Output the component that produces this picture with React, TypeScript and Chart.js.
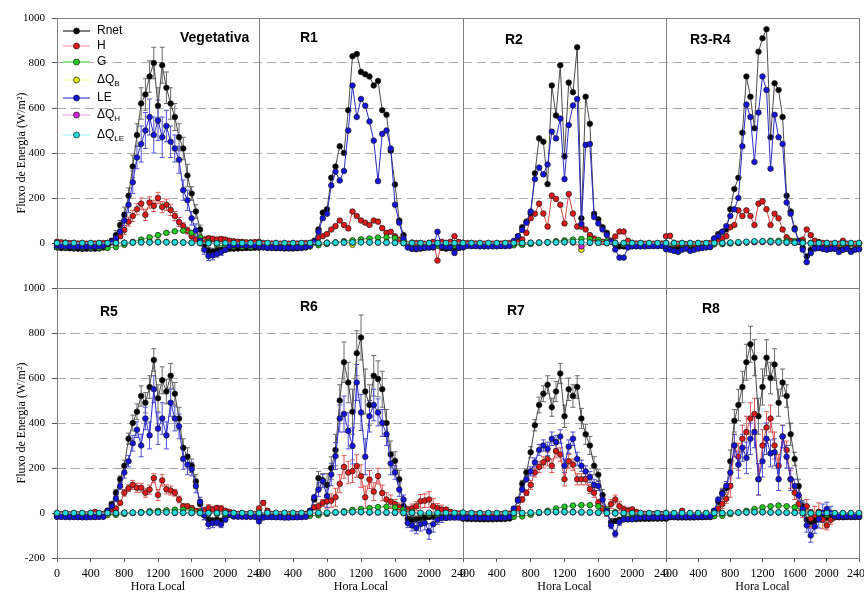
import React, { useEffect, useRef } from 'react';
import { Chart, registerables } from 'chart.js';
Chart.register(...registerables);

// ---------- categories ----------
const hours30 = [0,50,100,150,200,250,300,350,400,450,500,550,600,650,700,750,800,850,900,950,1000,1050,1100,1150,1200,1250,1300,1350,1400,1450,1500,1550,1600,1650,1700,1750,1800,1850,1900,1950,2000,2050,2100,2150,2200,2250,2300,2350,2400];
const hours60 = [0,100,200,300,400,500,600,700,800,900,1000,1100,1200,1300,1400,1500,1600,1700,1800,1900,2000,2100,2200,2300,2400];
const panelTitles = ['Vegetativa','R1','R2','R3-R4','R5','R6','R7','R8'];
const seriesBase = ['Rnet','H','G','\u0394Q','LE','\u0394Q','\u0394Q'];
const seriesSub = ['','','','B','','H','LE'];
const xTickStep = 400;
const yTickStep = 200;

// ---------- Vegetativa ----------
const vegRnet = [-20,-22,-22,-23,-24,-25,-26,-25,-25,-25,-24,-20,-10,10,35,80,125,210,340,480,620,660,740,800,610,790,690,620,560,470,420,300,220,140,60,-10,-35,-38,-33,-30,-28,-25,-25,-24,-23,-22,-22,-21,-20];
const vegH = [5,3,2,0,0,-2,-3,-3,-3,-2,-2,0,0,3,10,30,58,95,120,150,175,125,180,165,200,160,170,147,120,93,75,55,30,15,8,15,20,18,15,18,15,10,8,5,5,3,3,4,5];
const vegLE = [-12,-14,-15,-15,-16,-16,-17,-16,-16,-15,-15,-12,-5,5,22,50,100,170,270,380,440,500,560,480,545,470,520,450,420,370,235,190,110,55,10,-30,-58,-55,-48,-40,-30,-15,-10,-10,-10,-11,-11,-12,-12];
const vegG = [-18,-19,-20,-21,-22,-22,-22,-18,-8,5,15,25,35,45,52,55,45,25,5,-8,-14,-16,-17,-18,-18];
const vegQB = [-2,-2,-2,-2,-3,-3,-3,-2,0,2,4,5,6,5,4,3,1,-1,-2,-2,-2,-2,-2,-2,-2];
const vegQH = [0,0,0,0,0,0,0,0,1,2,2,3,3,3,2,2,1,0,-1,-1,0,0,0,0,0];
const vegQLE = [0,0,0,0,0,0,0,0,1,2,3,3,4,3,3,2,1,0,-1,-1,0,0,0,0,0];
const vegErrRnet = [8,8,8,8,8,8,10,20,35,50,70,70,80,70,60,50,30,20,15,12,10,8,8,8,8];
const vegErrLE = [8,8,8,8,8,8,10,20,35,50,80,80,90,70,60,45,30,20,20,15,10,8,8,8,8];
const vegErrH = [8,8,8,8,8,8,8,10,20,25,25,25,25,25,20,15,10,12,12,10,8,8,8,8,8];

// ---------- R1 ----------
const r1Rnet = [-20,-20,-22,-22,-23,-23,-24,-24,-24,-23,-22,-20,-15,10,60,135,150,290,340,430,400,590,830,840,760,750,740,700,720,590,570,410,260,100,35,-10,-25,-28,-25,-22,-20,-20,-10,-22,-25,-22,-30,-22,-20];
const r1H = [0,0,-2,-2,-3,-3,-3,-3,-3,-2,-2,0,0,5,25,30,40,60,75,100,80,65,140,120,100,90,80,100,95,66,45,50,30,15,5,-5,0,0,0,-3,0,5,-78,5,0,5,30,5,0];
const r1LE = [-18,-18,-20,-20,-20,-21,-21,-21,-20,-20,-20,-18,-12,5,50,110,130,256,317,278,320,500,700,560,640,610,540,455,275,485,500,420,170,90,20,-20,-25,-25,-22,-20,-20,-18,50,-15,-18,-20,-44,-20,-18];
const r1G = [-12,-12,-13,-13,-14,-14,-14,-10,-4,2,8,12,16,20,24,25,22,12,2,-6,-10,-11,-12,-12,-12];
const r1QB = [-2,-2,-2,-2,-2,-2,-2,-1,0,2,3,-8,5,4,3,2,1,-1,-2,-2,-2,-2,-2,-2,-2];
const r1QH = [0,0,0,0,0,0,0,0,1,1,2,2,3,2,2,1,1,0,0,0,0,0,0,0,0];
const r1QLE = [0,0,0,0,0,0,0,0,1,2,2,3,3,3,2,2,1,0,0,0,0,0,0,0,0];

// ---------- R2 ----------
const r2Rnet = [-8,-8,-10,-10,-10,-10,-10,-10,-10,-10,-10,-8,0,30,70,95,130,310,465,450,262,700,567,790,385,713,670,870,110,650,530,130,105,70,45,10,-8,-15,-15,-12,-12,-12,-12,-12,-10,-10,-10,-10,-8];
const r2H = [0,0,-2,-2,-3,-3,-3,-3,-3,-2,-2,0,0,5,15,45,110,130,175,131,73,211,196,170,87,218,131,73,73,60,35,20,10,5,5,10,29,51,51,10,0,-2,-2,-3,-3,-3,-2,-2,0];
const r2LE = [-13,-13,-14,-14,-15,-15,-15,-15,-15,-14,-14,-13,10,30,58,90,140,284,335,305,349,495,465,553,284,524,611,640,85,436,440,116,87,60,36,5,-29,-65,-65,-20,-15,-15,-15,-15,-14,-14,-14,-13,-12];
const r2G = [-8,-8,-9,-9,-10,-10,-10,-8,-4,0,4,8,12,15,18,18,14,8,0,-5,-7,-8,-8,-8,-8];
const r2QB = [-2,-2,-2,-2,-2,-2,-2,-1,0,2,3,4,5,4,-30,2,1,-1,-2,-2,-2,-2,-2,-2,-2];
const r2QH = [0,0,0,0,0,0,0,0,1,1,2,2,3,2,-15,1,1,0,0,0,0,0,0,0,0];
const r2QLE = [0,0,0,0,0,0,0,0,1,2,3,3,4,5,3,2,1,0,0,0,0,0,0,0,0];

// ---------- R3-R4 ----------
const r3Rnet = [-22,-25,-30,-25,-22,-20,-28,-25,-22,-20,-18,-15,20,40,50,60,150,240,290,490,740,650,510,850,910,950,470,710,680,560,210,140,65,10,-20,-60,-30,-20,-22,-25,-28,-25,-25,-30,-28,-25,-35,-28,-25];
const r3H = [30,32,0,-3,-5,-5,-5,-5,-3,-3,-2,0,0,10,20,30,70,80,145,120,145,120,80,175,185,150,80,130,110,60,25,10,3,5,15,60,35,10,5,0,0,-3,-3,-3,10,-3,-3,-3,-3];
const r3LE = [-28,-30,-35,-40,-30,-25,-35,-30,-25,-22,-20,-18,20,30,50,75,120,150,200,430,615,560,360,580,740,680,330,570,470,440,180,130,60,5,-30,-85,-45,-25,-22,-25,-30,-25,-25,-40,-30,-25,-40,-30,-28];
const r3G = [-5,-5,-6,-6,-6,-6,-6,-5,-2,0,3,5,8,10,10,10,8,4,0,-3,-4,-5,-5,-5,-5];
const r3QB = [-2,-2,-2,-2,-2,-2,-2,-1,0,2,3,4,5,4,3,2,1,-1,-2,-2,-2,-2,-2,-2,-2];
const r3QH = [0,0,0,0,0,0,0,0,1,2,3,4,4,3,2,1,1,0,0,0,0,0,0,0,0];
const r3QLE = [0,0,0,0,0,0,0,0,2,4,6,8,8,7,5,3,1,0,-1,0,0,0,0,0,0];

// ---------- R5 ----------
const r5Rnet = [-15,-16,-16,-17,-17,-18,-18,-18,-17,-17,-16,-15,10,40,90,150,210,330,400,450,520,490,560,680,510,590,540,610,530,420,290,250,210,140,40,-10,-30,-35,-30,-35,-20,-8,-15,-15,-15,-15,-15,-15,-15];
const r5H = [-5,-5,-5,-6,-6,-6,-6,-6,-5,5,-5,-5,0,5,20,45,90,110,125,112,112,90,104,155,80,145,105,100,90,60,30,30,22,10,5,10,22,15,22,20,10,5,-3,-4,-4,-5,-5,-5,-5];
const r5LE = [-17,-17,-18,-18,-18,-18,-19,-19,-18,-18,-17,-17,10,30,65,120,180,230,310,370,300,420,345,550,375,420,345,490,420,385,240,215,195,120,50,-10,-50,-45,-42,-50,-30,-5,-15,-16,-16,-17,-17,-17,-17];
const r5G = [-8,-8,-9,-9,-9,-9,-9,-8,-4,0,4,8,10,12,15,15,12,6,0,-4,-6,-7,-8,-8,-8];
const r5QB = [-2,-2,-2,-2,-2,-2,-2,-1,0,1,2,3,4,3,2,1,0,-1,-2,-2,-2,-2,-2,-2,-2];
const r5QH = [0,0,0,0,0,0,0,0,1,1,2,2,2,2,1,1,0,0,0,0,0,0,0,0,0];
const r5QLE = [0,0,0,0,0,0,0,0,1,2,2,3,3,3,2,1,1,0,0,0,0,0,0,0,0];
const r5ErrRnet = [5,5,5,5,5,5,8,15,25,35,45,50,60,55,50,40,30,20,15,12,8,5,5,5,5];
const r5ErrLE = [5,5,5,5,5,5,8,15,25,35,50,60,70,60,55,45,30,20,20,15,8,5,5,5,5];
const r5ErrH = [5,5,5,5,5,5,5,8,15,20,20,20,25,20,15,10,10,15,15,12,8,5,5,5,5];

// ---------- R6 ----------
const r6Rnet = [-20,-15,-15,-16,-16,-17,-17,-17,-16,-16,-15,-15,0,60,155,145,125,200,280,500,670,580,450,710,780,540,480,610,596,550,400,260,232,150,30,-25,-30,-28,-22,-20,-18,-16,-15,-15,-15,-15,-15,-16,-18];
const r6H = [20,45,10,-5,-6,-6,-6,-6,-5,-5,-5,-4,5,25,30,45,52,55,70,130,205,180,186,209,164,70,149,95,164,89,60,50,40,25,15,15,20,30,52,55,60,30,22,15,15,5,0,-2,-3];
const r6LE = [-37,-20,-18,-18,-19,-19,-20,-20,-19,-19,-18,-16,10,70,104,142,75,171,253,420,440,365,298,580,447,250,430,480,447,400,350,220,180,104,60,-45,-55,-67,-50,-45,-82,-50,-30,-22,-22,-20,-20,-20,-22];
const r6G = [-10,-10,-11,-11,-11,-12,-12,-10,-4,2,8,14,18,22,26,28,25,15,5,-3,-7,-8,-9,-10,-10];
const r6QB = [-3,-3,-3,-3,-3,-3,-3,-2,0,2,3,4,5,4,3,2,1,-1,-2,-3,-3,-3,-3,-3,-3];
const r6QH = [0,0,0,0,0,0,0,0,1,2,2,3,3,2,2,1,1,0,0,0,0,0,0,0,0];
const r6QLE = [2,1,1,1,1,1,1,1,2,3,4,5,5,4,3,3,2,1,1,1,1,1,1,1,2];
const r6ErrRnet = [10,10,10,10,10,10,10,30,50,70,90,100,100,90,80,60,40,20,15,12,10,10,10,10,10];
const r6ErrLE = [10,10,10,10,10,10,10,30,50,60,80,80,80,70,60,50,30,20,25,30,35,20,10,10,10];
const r6ErrH = [10,10,10,10,10,10,10,15,30,40,50,50,50,40,35,30,20,15,20,30,35,20,10,10,10];

// ---------- R7 ----------
const r7Rnet = [-25,-26,-27,-27,-28,-28,-28,-28,-27,-27,-26,-24,10,60,130,180,270,390,480,530,570,470,540,620,430,550,520,560,420,350,300,210,170,80,10,-40,-35,-30,-28,-28,-27,-27,-26,-26,-26,-25,-25,-25,-25];
const r7H = [-5,-5,-5,-5,-6,-6,-6,-6,-5,-5,-5,-3,5,20,60,90,125,180,205,225,240,210,275,260,150,230,215,150,150,150,106,90,46,20,5,40,60,30,16,10,16,5,-3,-4,-4,-5,-5,-5,-5];
const r7LE = [-20,-20,-21,-21,-22,-22,-22,-22,-21,-21,-20,-18,20,55,105,150,185,225,280,300,285,330,315,340,210,295,330,240,210,185,160,125,120,60,10,-55,-92,-40,-28,-28,-28,-22,-20,-20,-20,-20,-20,-20,-20];
const r7G = [-15,-15,-16,-16,-17,-17,-17,-15,-8,0,10,20,28,33,35,35,30,18,4,-6,-11,-13,-14,-15,-15];
const r7QB = [-3,-3,-3,-3,-3,-3,-3,-2,0,2,4,5,6,5,4,3,1,-1,-2,-3,-3,-3,-3,-3,-3];
const r7QH = [0,0,0,0,0,0,0,0,1,2,3,3,3,3,2,2,1,0,-1,0,0,0,0,0,0];
const r7QLE = [0,0,0,0,0,0,0,0,2,3,4,5,5,4,4,3,2,0,-1,0,0,0,0,0,0];
const r7ErrRnet = [6,6,6,6,6,6,8,15,25,35,40,45,50,50,45,40,25,15,10,8,6,6,6,6,6];
const r7ErrLE = [6,6,6,6,6,6,8,12,20,25,30,30,30,30,25,25,20,15,15,10,6,6,6,6,6];
const r7ErrH = [6,6,6,6,6,6,8,12,20,25,30,30,30,25,25,20,15,20,20,15,6,6,6,6,6];

// ---------- R8 ----------
const r8Rnet = [-18,-19,-19,-20,-20,-20,-20,-20,-19,-19,-18,-18,10,50,90,110,230,410,480,560,670,750,690,430,560,690,600,660,490,580,520,350,240,120,30,-30,-40,-35,-25,-22,-20,-20,-19,-19,-19,-18,-18,-18,-18];
const r8H = [-8,-8,-9,-9,10,-9,-10,-10,-9,-9,-8,-8,5,20,40,63,120,300,250,330,360,420,440,150,300,380,420,300,210,340,280,150,90,40,10,30,-25,-10,5,-30,-55,-30,-19,-10,-10,-10,-10,-10,-10];
const r8LE = [-15,-15,-16,-16,-16,-17,-17,-17,-16,-16,-15,-15,10,60,85,120,180,300,215,290,245,330,360,150,230,330,265,270,150,340,250,150,120,78,18,-55,-100,-60,-27,0,18,0,-15,-15,-15,-15,-15,-15,-15];
const r8G = [-12,-12,-13,-13,-14,-14,-14,-12,-5,2,10,18,25,30,33,30,25,14,3,-5,-9,-11,-12,-12,-12];
const r8QB = [-2,-2,-2,-2,-2,-2,-2,-1,0,2,3,4,5,4,3,2,1,-1,-2,-2,-2,-2,-2,-2,-2];
const r8QH = [0,0,0,0,0,0,0,0,1,2,2,3,3,2,2,1,1,0,0,0,0,0,0,0,0];
const r8QLE = [0,0,0,0,0,0,0,0,1,2,3,4,4,3,3,2,1,0,-1,0,0,0,0,0,0];
const r8ErrRnet = [8,8,8,8,8,8,10,20,50,70,80,80,80,70,60,50,30,25,20,15,10,8,8,8,8];
const r8ErrLE = [8,8,8,8,8,8,10,20,50,60,70,70,70,60,50,50,30,30,30,40,30,10,8,8,8];
const r8ErrH = [8,8,8,8,8,8,10,20,50,60,70,70,70,60,50,40,30,30,40,40,20,10,8,8,8];

const panels: any[] = [
  { rnet: vegRnet, h: vegH, g: vegG, qb: vegQB, le: vegLE, qh: vegQH, qle: vegQLE, err: { rnet: vegErrRnet, h: vegErrH, le: vegErrLE } },
  { rnet: r1Rnet, h: r1H, g: r1G, qb: r1QB, le: r1LE, qh: r1QH, qle: r1QLE, err: null },
  { rnet: r2Rnet, h: r2H, g: r2G, qb: r2QB, le: r2LE, qh: r2QH, qle: r2QLE, err: null },
  { rnet: r3Rnet, h: r3H, g: r3G, qb: r3QB, le: r3LE, qh: r3QH, qle: r3QLE, err: null },
  { rnet: r5Rnet, h: r5H, g: r5G, qb: r5QB, le: r5LE, qh: r5QH, qle: r5QLE, err: { rnet: r5ErrRnet, h: r5ErrH, le: r5ErrLE } },
  { rnet: r6Rnet, h: r6H, g: r6G, qb: r6QB, le: r6LE, qh: r6QH, qle: r6QLE, err: { rnet: r6ErrRnet, h: r6ErrH, le: r6ErrLE } },
  { rnet: r7Rnet, h: r7H, g: r7G, qb: r7QB, le: r7LE, qh: r7QH, qle: r7QLE, err: { rnet: r7ErrRnet, h: r7ErrH, le: r7ErrLE } },
  { rnet: r8Rnet, h: r8H, g: r8G, qb: r8QB, le: r8LE, qh: r8QH, qle: r8QLE, err: { rnet: r8ErrRnet, h: r8ErrH, le: r8ErrLE } },
];

// ---------- styles ----------
const seriesStyle = [
  { key: 'rnet', fill: '#000000', line: '#4a4a4a', err: '#6a6a6a', hourly: false },
  { key: 'h', fill: '#e01818', line: '#d84848', err: '#e05858', hourly: false },
  { key: 'g', fill: '#22cc22', line: '#48b848', err: '', hourly: true },
  { key: 'qb', fill: '#f2f200', line: '#d0d050', err: '', hourly: true },
  { key: 'le', fill: '#1414e0', line: '#2a2ac8', err: '#5050d8', hourly: false },
  { key: 'qh', fill: '#dd22dd', line: '#c860c8', err: '', hourly: true },
  { key: 'qle', fill: '#22e0e0', line: '#50c0c0', err: '', hourly: true },
];
const legendLine = ['#000000', '#f09090', '#90e090', '#f0f090', '#2020c0', '#f090f0', '#90f0f0'];
const legendRowY = [13, 28, 44, 62, 80, 97, 117];
const titleOffsets = [[123, 20], [41, 20], [42, 22], [24, 22], [43, 24], [41, 19], [44, 23], [36, 21]];
const colWeights = [202, 204, 203, 193];
const serif = 'Liberation Serif';
const sans = 'Liberation Sans';

function buildDatasets() {
  const out: any[] = [];
  panels.forEach((p, pi) => {
    const row = pi < 4 ? 0 : 1;
    const col = pi % 4;
    seriesStyle.forEach((s, si) => {
      const xs = s.hourly ? hours60 : hours30;
      const vals: number[] = p[s.key];
      out.push({
        label: panelTitles[pi] + ' ' + seriesBase[si] + seriesSub[si],
        data: xs.map((x, i) => ({ x, y: vals[i] })),
        xAxisID: 'x' + col,
        yAxisID: 'y' + row,
        order: 6 - si,
        borderColor: s.line,
        borderWidth: 1,
        pointRadius: 2.8,
        pointBorderWidth: 0.7,
        pointBackgroundColor: s.fill,
        pointBorderColor: '#1a1a1a',
        tension: 0,
        clip: false,
        errors: p.err && p.err[s.key] ? p.err[s.key] : null,
        errorColor: s.err,
      });
    });
  });
  return out;
}

const framePlugin = {
  id: 'frames',
  beforeDatasetsDraw(chart: any) {
    const ctx = chart.ctx;
    ctx.save();
    ctx.strokeStyle = '#808080';
    ctx.lineWidth = 1;
    for (let r = 0; r < 2; r++) {
      for (let c = 0; c < 4; c++) {
        const xs = chart.scales['x' + c];
        const ys = chart.scales['y' + r];
        ctx.strokeRect(Math.round(xs.left) + 0.5, Math.round(ys.top) + 0.5, Math.round(xs.right - xs.left), Math.round(ys.bottom - ys.top));
      }
    }
    ctx.restore();
  },
};

const errorBarPlugin = {
  id: 'errorBars',
  beforeDatasetsDraw(chart: any) {
    const ctx = chart.ctx;
    chart.data.datasets.forEach((ds: any, i: number) => {
      if (!ds.errors) return;
      const meta = chart.getDatasetMeta(i);
      const yScale = chart.scales[ds.yAxisID];
      ctx.save();
      ctx.strokeStyle = ds.errorColor;
      ctx.lineWidth = 1;
      meta.data.forEach((el: any, j: number) => {
        const pt = ds.data[j];
        const e = ds.errors[Math.floor(pt.x / 100)];
        const yt = yScale.getPixelForValue(pt.y + e);
        const yb = yScale.getPixelForValue(pt.y - e);
        ctx.beginPath();
        ctx.moveTo(el.x, yt); ctx.lineTo(el.x, yb);
        ctx.moveTo(el.x - 2.5, yt); ctx.lineTo(el.x + 2.5, yt);
        ctx.moveTo(el.x - 2.5, yb); ctx.lineTo(el.x + 2.5, yb);
        ctx.stroke();
      });
      ctx.restore();
    });
  },
};

const annotatePlugin = {
  id: 'annotate',
  afterDraw(chart: any) {
    const ctx = chart.ctx;
    ctx.save();
    ctx.fillStyle = '#000';
    ctx.font = 'bold 14px "' + sans + '"';
    ctx.textBaseline = 'middle';
    ctx.textAlign = 'left';
    panelTitles.forEach((t, pi) => {
      const row = pi < 4 ? 0 : 1;
      const col = pi % 4;
      const xs = chart.scales['x' + col];
      const ys = chart.scales['y' + row];
      ctx.fillText(t, xs.left + titleOffsets[pi][0], ys.top + titleOffsets[pi][1]);
    });
    const x0 = chart.scales.x0.left;
    const y0 = chart.scales.y0.top;
    seriesStyle.forEach((s, si) => {
      const y = y0 + legendRowY[si];
      ctx.strokeStyle = legendLine[si];
      ctx.lineWidth = si === 2 ? 2 : 1;
      ctx.beginPath();
      ctx.moveTo(x0 + 6, y);
      ctx.lineTo(x0 + 33, y);
      ctx.stroke();
      ctx.beginPath();
      ctx.arc(x0 + 19.5, y, 3, 0, Math.PI * 2);
      ctx.fillStyle = s.fill;
      ctx.fill();
      ctx.lineWidth = 0.7;
      ctx.strokeStyle = '#1a1a1a';
      ctx.stroke();
      ctx.fillStyle = '#000';
      ctx.font = '12px "' + sans + '"';
      const base = seriesBase[si];
      ctx.fillText(base, x0 + 40, y);
      if (seriesSub[si]) {
        const w = ctx.measureText(base).width;
        ctx.font = '8px "' + sans + '"';
        ctx.fillText(seriesSub[si], x0 + 40 + w, y + 4);
      }
    });
    ctx.restore();
  },
};

function zeroPad(s: any) {
  s.paddingLeft = 0; s.paddingRight = 0; s.paddingTop = 0; s.paddingBottom = 0;
}

function yAxis(row: number) {
  return {
    type: 'linear',
    position: 'left',
    stack: 'rows',
    stackWeight: 1,
    weight: row === 0 ? 1 : 0,
    min: -200,
    max: 1000,
    afterFit: (s: any) => { s.width = 57; zeroPad(s); },
    ticks: {
      stepSize: yTickStep,
      font: { family: serif, size: 11 },
      color: '#000',
      padding: 7,
      callback: (v: any) => (row === 0 && v === -200 ? '' : String(v)),
    },
    grid: {
      color: (ctx: any) => {
        const v = ctx.tick ? ctx.tick.value : 0;
        return v > 0 && v < 1000 ? '#aaaaaa' : 'rgba(0,0,0,0)';
      },
      tickColor: '#555',
      tickLength: 5,
      lineWidth: 1,
    },
    border: { display: false, dash: [9, 5] },
    title: {
      display: true,
      text: 'Fluxo de Energia (W/m\u00b2)',
      font: { family: serif, size: 12 },
      color: '#000',
      padding: { top: 15, bottom: 0 },
    },
  };
}

function xAxis(col: number) {
  return {
    type: 'linear',
    position: 'bottom',
    stack: 'cols',
    stackWeight: colWeights[col],
    weight: col,
    min: 0,
    max: 2400,
    afterFit: (s: any) => { s.height = 36; zeroPad(s); },
    ticks: {
      stepSize: xTickStep,
      autoSkip: false,
      maxRotation: 0,
      minRotation: 0,
      font: { family: serif, size: 12 },
      color: '#000',
      padding: 5,
      callback: (v: any) => String(v),
    },
    grid: { drawOnChartArea: false, tickColor: '#555', tickLength: 4 },
    border: { display: false },
    title: {
      display: true,
      text: 'Hora Local',
      font: { family: serif, size: 12 },
      color: '#000',
      padding: { top: 0, bottom: 0 },
    },
  };
}

export default function App() {
  const ref = useRef<HTMLCanvasElement | null>(null);
  useEffect(() => {
    if (!ref.current) return;
    const chart = new Chart(ref.current, {
      type: 'line',
      data: { datasets: buildDatasets() },
      options: {
        responsive: false,
        animation: false,
        devicePixelRatio: 1,
        layout: { padding: { top: 18, right: 5, left: 0, bottom: 0 }, autoPadding: false },
        plugins: { legend: { display: false }, tooltip: { enabled: false } },
        scales: {
          y0: yAxis(0),
          y1: yAxis(1),
          x0: xAxis(0),
          x1: xAxis(1),
          x2: xAxis(2),
          x3: xAxis(3),
        } as any,
      } as any,
      plugins: [framePlugin, errorBarPlugin, annotatePlugin],
    });
    return () => chart.destroy();
  }, []);
  return (
    <div style={{ position: 'absolute', left: 0, top: 0, width: 864, height: 594, background: '#fff' }}>
      <canvas ref={ref} width={864} height={594} style={{ width: 864, height: 594 }} />
    </div>
  );
}
